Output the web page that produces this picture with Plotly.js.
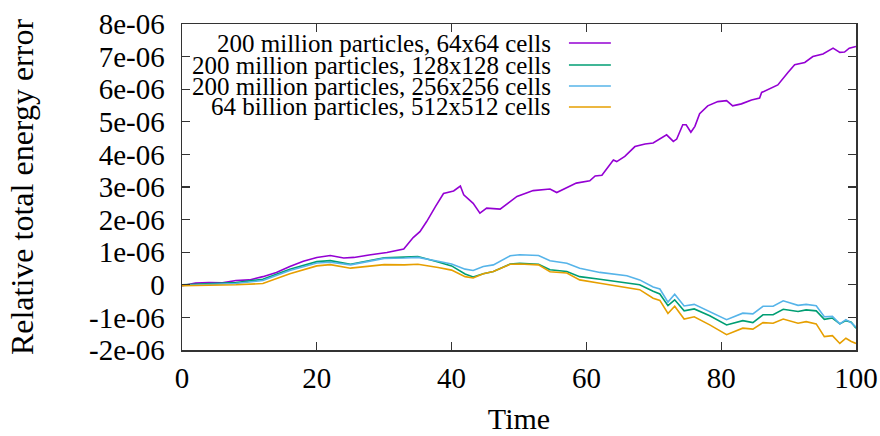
<!DOCTYPE html>
<html>
<head>
<meta charset="utf-8">
<script src="https://cdn.plot.ly/plotly-3.0.1.min.js"></script>
</head>
<body style="margin:0">
<div id="plot" style="width:880px;height:436px"></div>
<script>
// values are in units of 1e-6
const UNIT = 1e-6;
const seriesNames = [
  "200 million particles, 64x64 cells",
  "200 million particles, 128x128 cells",
  "200 million particles, 256x256 cells",
  "64 billion particles, 512x512 cells"
];
const seriesColors = ["#9400d3", "#009e73", "#56b4e9", "#e69f00"];

const timeCoarse = [0, 2, 4, 6, 8, 10, 12, 14, 16, 18, 20, 22, 24, 25.5, 28, 30.4, 32.9, 34.3, 35.3, 36.3, 37.6, 38.8, 40.3, 41.3, 41.8, 42.7, 43.2, 44.2, 45.2, 47.2, 49.7, 52.1, 54.6, 55.6, 57.1, 58.5, 60.5, 61.3, 62.3, 63.2, 64, 64.5, 65.7, 67.2, 68.7, 69.9, 71.1, 71.9, 72.9, 73.4, 74.3, 74.8, 75.5, 76.1, 76.8, 78, 79.5, 80.8, 81.7, 83, 84.5, 85.7, 86, 86.9, 88.4, 89.9, 90.9, 92.4, 93.6, 95.1, 96.6, 97.6, 98.3, 99, 100];
const err64 = [-0.03, 0.05, 0.07, 0.06, 0.13, 0.15, 0.25, 0.38, 0.56, 0.72, 0.84, 0.9, 0.82, 0.84, 0.92, 0.99, 1.1, 1.45, 1.63, 1.94, 2.4, 2.8, 2.88, 3.03, 2.76, 2.6, 2.5, 2.2, 2.35, 2.32, 2.71, 2.89, 2.94, 2.83, 2.97, 3.12, 3.19, 3.34, 3.36, 3.63, 3.83, 3.78, 3.94, 4.24, 4.32, 4.35, 4.5, 4.6, 4.4, 4.47, 4.91, 4.91, 4.68, 4.86, 5.25, 5.49, 5.62, 5.65, 5.49, 5.55, 5.67, 5.73, 5.9, 5.98, 6.13, 6.51, 6.75, 6.82, 7.0, 7.08, 7.26, 7.13, 7.14, 7.26, 7.31];

const timeFine = [0, 4, 8, 12, 16, 20, 22, 25, 28, 30, 33, 35, 38, 40, 42, 43.2, 44.7, 46.2, 48.7, 50.1, 52.9, 54.6, 57.1, 59, 62, 66, 67.9, 69.9, 70.9, 72.1, 73.1, 74.5, 76, 78.3, 80.8, 83.2, 84.7, 86.2, 87.7, 89.2, 91.4, 92.6, 94.1, 95.3, 96.5, 97.6, 98.5, 99.3, 100];
const err128 = [0.0, 0.03, 0.07, 0.17, 0.48, 0.71, 0.74, 0.63, 0.74, 0.83, 0.85, 0.87, 0.7, 0.58, 0.33, 0.24, 0.34, 0.41, 0.64, 0.66, 0.63, 0.46, 0.41, 0.25, 0.17, 0.07, 0.0, -0.2, -0.28, -0.64, -0.46, -0.8, -0.74, -0.95, -1.23, -1.1, -1.16, -0.92, -0.92, -0.75, -0.82, -0.77, -0.8, -1.06, -1.02, -1.2, -1.1, -1.15, -1.33];
const err256 = [-0.02, 0.01, 0.04, 0.13, 0.44, 0.67, 0.69, 0.61, 0.72, 0.81, 0.82, 0.84, 0.72, 0.64, 0.48, 0.44, 0.56, 0.61, 0.89, 0.92, 0.9, 0.74, 0.66, 0.51, 0.38, 0.28, 0.15, -0.07, -0.13, -0.53, -0.29, -0.65, -0.6, -0.82, -1.07, -0.87, -0.89, -0.66, -0.66, -0.49, -0.63, -0.6, -0.64, -0.98, -0.97, -1.2, -1.07, -1.17, -1.3];
const err512 = [-0.03, -0.02, 0.0, 0.04, 0.34, 0.58, 0.62, 0.51, 0.57, 0.62, 0.61, 0.63, 0.53, 0.45, 0.25, 0.21, 0.34, 0.41, 0.63, 0.64, 0.61, 0.4, 0.36, 0.15, 0.05, -0.07, -0.15, -0.41, -0.48, -0.88, -0.66, -1.05, -0.98, -1.23, -1.53, -1.33, -1.36, -1.16, -1.18, -1.05, -1.18, -1.13, -1.2, -1.59, -1.56, -1.8, -1.64, -1.74, -1.8];

const xTickVals = [0, 20, 40, 60, 80, 100];
const yTickVals = [-2, -1, 0, 1, 2, 3, 4, 5, 6, 7, 8];
const yTickText = ["-2e-06", "-1e-06", "0", "1e-06", "2e-06", "3e-06", "4e-06", "5e-06", "6e-06", "7e-06", "8e-06"];

const xs = [timeCoarse, timeFine, timeFine, timeFine];
const ys = [err64, err128, err256, err512];

const traces = ys.map((arr, i) => ({
  type: "scatter",
  mode: "lines",
  name: seriesNames[i],
  x: xs[i],
  y: arr.map(v => v * UNIT),
  line: {color: seriesColors[i], width: 1.6},
  showlegend: false
}));

// gnuplot-style key: right-aligned text with the line sample to its right
const keyTextX = 0.5504, keySampleX0 = 0.5741, keySampleX1 = 0.6363;
const keyRowY = [0.9417, 0.8742, 0.8098, 0.7454];
const annotations = seriesNames.map((n, i) => ({
  xref: "paper", yref: "paper", x: keyTextX, y: keyRowY[i],
  xanchor: "right", yanchor: "middle", text: n, showarrow: false,
  font: {family: "Liberation Serif", size: 25}
}));
const shapes = seriesColors.map((c, i) => ({
  type: "line", xref: "paper", yref: "paper",
  x0: keySampleX0, x1: keySampleX1, y0: keyRowY[i], y1: keyRowY[i],
  line: {color: c, width: 1.6}
}));

const layout = {
  width: 880, height: 436,
  margin: {l: 181.5, r: 23.5, t: 24, b: 86},
  font: {family: "Liberation Serif", color: "#000000"},
  xaxis: {
    showgrid: false, zeroline: false, showline: true, mirror: "allticks",
    linecolor: "#333", linewidth: 1.5, ticks: "inside", ticklen: 8,
    tickcolor: "#333", tickwidth: 1.2,
    tickfont: {family: "Liberation Serif", size: 29},
    range: [0, 100], tickvals: xTickVals, ticklabelstandoff: 2,
    title: {text: "Time", font: {family: "Liberation Serif", size: 30}, standoff: 14}
  },
  yaxis: {
    showgrid: false, zeroline: false, showline: true, mirror: "allticks",
    linecolor: "#333", linewidth: 1.5, ticks: "inside", ticklen: 8,
    tickcolor: "#333", tickwidth: 1.2,
    tickfont: {family: "Liberation Serif", size: 29},
    range: [-2 * UNIT, 8 * UNIT], tickvals: yTickVals.map(v => v * UNIT), ticktext: yTickText,
    ticklabelstandoff: 10,
    title: {text: "Relative total energy error", font: {family: "Liberation Serif", size: 32}, standoff: 46}
  },
  annotations: annotations,
  shapes: shapes,
  showlegend: false
};

Plotly.newPlot("plot", traces, layout, {staticPlot: true, displayModeBar: false});
</script>
</body>
</html>
